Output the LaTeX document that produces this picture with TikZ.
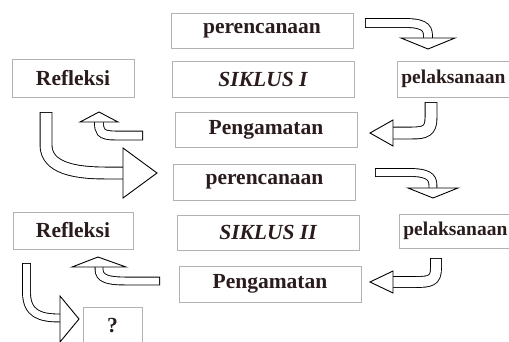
\documentclass[tikz,border=0pt]{standalone}
\usepackage{fontspec}
\setmainfont{Liberation Serif}
\usepackage{tikz}
\definecolor{txtcol}{HTML}{2A1C1C}
\colorlet{boxcol}{black!30}
\tikzset{line join=miter}
% hollow block arrow: shaft width, shaft path (ends at head base), head corners
\newcommand{\blockarrow}[3]{%
  \draw[line width=#1+1.8pt] #2;
  \draw[line width=#1, white, shorten <=0.9pt] #2;
  \filldraw[fill=white, line width=0.9pt] #3 -- cycle;
}

\begin{document}
\begin{tikzpicture}[x=1pt, y=-1pt,
  stage/.style={draw=boxcol, line width=0.7pt, minimum width=182pt, minimum height=35pt, inner sep=6pt, text=txtcol, font=\bfseries\fontsize{21.5}{24}\selectfont},
  actbox/.style={stage, minimum width=131pt, anchor=west, inner sep=4pt, font=\bfseries\fontsize{19.5}{22}\selectfont}]
\useasboundingbox (0,0) rectangle (509,341);
\clip (0,0) rectangle (509,341);
% cycle one
\node[stage] (plan1) at (262,30.5) {perencanaan};
\node[stage, minimum height=36pt] (cycle1) at (263,79) {\itshape SIKLUS I};
\node[stage, minimum width=122pt, minimum height=38pt] (refl1) at (73,78) {Refleksi};
\node[actbox, minimum height=36pt] (act1) at (397,79) {pelaksanaan\hspace*{20pt}};
\node[stage] (obs1) at (266,129.5) {Pengamatan};
% cycle two
\node[stage, minimum height=36pt] (plan2) at (264.5,182) {perencanaan};
\node[stage] (cycle2) at (268,232.5) {\itshape SIKLUS II};
\node[stage, minimum width=120pt, minimum height=37pt] (refl2) at (73,230.5) {Refleksi};
\node[actbox, minimum height=34pt] (act2) at (399,231) {pelaksanaan\hspace*{20pt}};
\node[stage, minimum height=36pt] (obs2) at (270,284) {Pengamatan};
\node[stage, minimum width=59pt, minimum height=38pt] (next) at (112.5,326) {?};
% arrows
\blockarrow{8pt}{(365,23) -- (405,23) .. controls (428,23) and (428,30) .. (428,38)}{(401,38) -- (428,49) -- (455,38)}
\blockarrow{11pt}{(431,102) -- (431,118) .. controls (431,131) and (425,133) .. (412,133) -- (393,133)}{(393,120) -- (370,133) -- (393,146)}
\blockarrow{8pt}{(143,135.5) -- (115,135.5) .. controls (100,135.5) and (99,131) .. (99,122)}{(80,122) -- (99,112) -- (118,122)}
\blockarrow{11pt}{(46,112) -- (46,145) .. controls (46,168) and (75,173) .. (105,173) -- (123,173)}{(123,148) -- (157,173) -- (123,198)}
\blockarrow{7pt}{(375,172.5) -- (410,172.5) .. controls (433,172.5) and (433,180) .. (433,188)}{(408,188) -- (433,198) -- (458,188)}
\blockarrow{10pt}{(436,258) -- (436,268) .. controls (436,281) and (430,282) .. (415,282) -- (393,282)}{(393,271) -- (370,282) -- (393,293)}
\blockarrow{7pt}{(160,281) -- (125,281) .. controls (100,281) and (99,275) .. (99,267)}{(72,267) -- (98,257) -- (126,267)}
\blockarrow{7pt}{(26.5,263) -- (26.5,292) .. controls (26.5,314) and (40,318) .. (60,318)}{(60,296) -- (79,319) -- (60,342)}
\end{tikzpicture}
\end{document}
